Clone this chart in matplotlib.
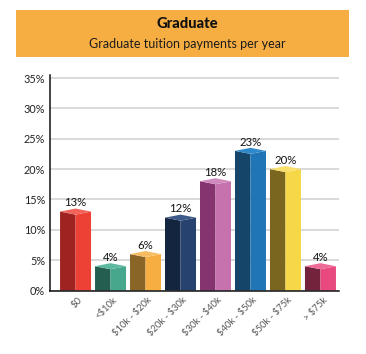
import matplotlib
matplotlib.use("Agg")
import matplotlib.pyplot as plt
from matplotlib.patches import Rectangle
from matplotlib.transforms import ScaledTranslation

plt.rcParams['font.family'] = ['Lato', 'DejaVu Sans']

categories = ["$0", "<$10k", "$10k - $20k", "$20k - $30k", "$30k - $40k", "$40k - $50k", "$50k - $75k", "> $75k"]
values = [13, 4, 6, 12, 18, 23, 20, 4]
yticks = [0, 5, 10, 15, 20, 25, 30, 35]
dark = ["#9e2321", "#235e50", "#8a6528", "#14263f", "#86346f", "#15466a", "#7b6620", "#74233c"]
light = ["#ee4136", "#47a78d", "#f6ae43", "#28426f", "#c572ae", "#2075b6", "#f6d748", "#e84a7f"]
top = ["#f0625a", "#5cb8a0", "#f8bd63", "#3d5a8a", "#d08abd", "#2f88c9", "#f8e06a", "#ee6a96"]

W, H = 366, 354
fig = plt.figure(figsize=(W / 100, H / 100), dpi=100)
fig.patches.append(Rectangle((16 / W, 1 - 57 / H), 333 / W, 47 / H, transform=fig.transFigure, color="#f6ae43", lw=0))
fig.text(187.5 / W, 1 - 24.5 / H, "Graduate", ha="center", va="center", fontsize=10.6, fontweight="black", color="#111111")
fig.text(187 / W, 1 - 43.5 / H, "Graduate tuition payments per year", ha="center", va="center", fontsize=9, color="#1c1c1c")

# axis runs a little above the 35% gridline
ax = fig.add_axes([50 / W, 1 - 290.5 / H, 289 / W, 215.5 / H])
ax.set_xlim(-0.73, 7.53)
ax.set_ylim(0, 35.5)
half = 0.443
rise = 0.5  # top face height in % units

for i, v in enumerate(values):
    ax.fill([i - half, i, i, i - half], [0, 0, v - rise, v], color=dark[i], lw=0, zorder=3)
    ax.fill([i, i + half, i + half, i], [0, 0, v, v - rise], color=light[i], lw=0, zorder=3)
    ax.fill([i - half, i, i + half, i], [v, v + rise, v, v - rise], color=top[i], lw=0, zorder=3)
    ax.text(i, v + 1.45, f"{v}%", ha="center", va="center", fontsize=8.2, color="#111111", zorder=4)

ax.set_yticks(yticks)
ax.set_yticklabels([f"{t}%" for t in yticks], fontsize=7.8, color="#222222")
ax.set_xticks(range(len(categories)))
ax.set_xticklabels([c.replace("$", r"\$") for c in categories], rotation=45, ha="right", va="top",
                   rotation_mode="anchor", fontsize=6.8, color="#555555")
ax.tick_params(axis="both", length=0)
ax.tick_params(axis="y", pad=3.5)
ax.tick_params(axis="x", pad=3.5)
shift = ScaledTranslation(2 / 100, 0, fig.dpi_scale_trans)
for lab in ax.get_xticklabels():
    lab.set_transform(lab.get_transform() + shift)
ax.grid(axis="y", color="#cfcfcf", lw=1.1, zorder=0)
ax.set_axisbelow(True)
for s in ["top", "right"]:
    ax.spines[s].set_visible(False)
for s in ["left", "bottom"]:
    ax.spines[s].set_color("#111111")
    ax.spines[s].set_linewidth(1.1)
    ax.spines[s].set_zorder(5)

fig.savefig("out.png", dpi=100)
